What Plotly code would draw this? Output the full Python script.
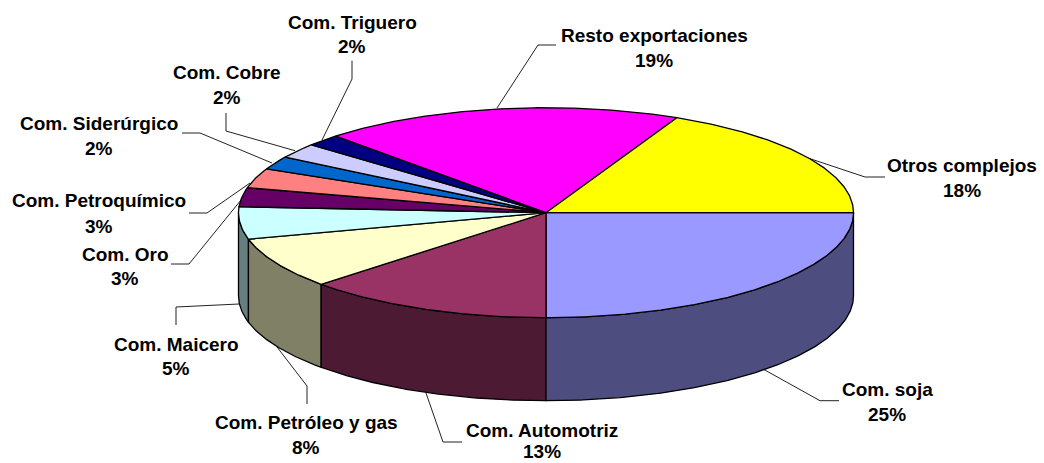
import numpy as np
import plotly.graph_objects as go

# ---- data ----
categories = ["Com. soja", "Com. Automotriz", "Com. Petróleo y gas", "Com. Maicero", "Com. Oro",
              "Com. Petroquímico", "Com. Siderúrgico", "Com. Cobre", "Com. Triguero",
              "Resto exportaciones", "Otros complejos"]
shares = [25.0, 13.05, 7.89, 4.97, 2.92, 3.03, 2.03, 2.31, 1.83, 18.97, 18.0]
top_colors = ["#9999FF", "#993366", "#FFFFCC", "#CCFFFF", "#660066", "#FF8080",
              "#0066CC", "#CCCCFF", "#000080", "#FF00FF", "#FFFF00"]
side_colors = ["#4D4D80", "#4D1A33", "#808066", "#668080", "#330033", "#804040",
               "#003366", "#666680", "#000040", "#800080", "#808000"]

# ---- layout of the drawing, in page pixels ----
W, H = 1044, 463
CX, CY, RX, RY, DEPTH = 546, 212.7, 307.5, 105, 83
label_x = [887, 542, 306, 176, 125, 99, 99, 226.5, 352, 654, 962]
name_y = [389, 430, 422, 344, 254, 200, 123, 72, 22, 35, 165]
pct_y = [414, 451.5, 447, 368, 278, 226, 148, 97, 46, 60, 190]
leaders = [
    [(839, 400.7), (820, 400.7), (763, 369)],
    [(462, 442), (443, 442), (426, 393)],
    [(307, 404), (307, 386), (277, 347)],
    [(176, 325), (176, 307), (239, 304)],
    [(171, 264), (189, 264), (241, 200)],
    [(189, 213), (207, 213), (250, 183)],
    [(182, 133), (200, 133), (272, 163)],
    [(226, 113), (226, 131), (295, 150.7)],
    [(352, 60.6), (352, 79), (322, 140)],
    [(556, 45), (538, 45), (497, 108)],
    [(885, 177), (865, 177), (805, 157)],
]


def arc(a0, a1, dy=0.0):
    n = max(2, int(abs(a1 - a0) * 2) + 2)
    t = np.radians(np.linspace(a0, a1, n))
    return CX + RX * np.cos(t), CY + dy + RY * np.sin(t)


ends = np.cumsum(shares) / np.sum(shares) * 360.0
starts = np.concatenate([[0.0], ends[:-1]])

fig = go.Figure()

for pts in leaders:
    fig.add_trace(go.Scatter(x=[p[0] for p in pts], y=[p[1] for p in pts], mode="lines",
                             line=dict(color="#222222", width=1), hoverinfo="skip"))

# side wall: only the front half (0..180 degrees clockwise from east) is visible
order = [i for i in range(len(shares)) if starts[i] < 180]
for i in reversed(order):
    a0, a1 = starts[i], min(ends[i], 180.0)
    xt, yt = arc(a0, a1)
    xb, yb = arc(a1, a0, DEPTH)
    fig.add_trace(go.Scatter(x=np.r_[xt, xb, xt[0]], y=np.r_[yt, yb, yt[0]], mode="lines",
                             fill="toself", fillcolor=side_colors[i],
                             line=dict(color="#000000", width=1.3), hoverinfo="skip"))

# top face
for i in range(len(shares)):
    xa, ya = arc(starts[i], ends[i])
    fig.add_trace(go.Scatter(x=np.r_[CX, xa, CX], y=np.r_[CY, ya, CY], mode="lines",
                             fill="toself", fillcolor=top_colors[i],
                             line=dict(color="#000000", width=1.3), name=categories[i],
                             hoverinfo="skip"))

font = dict(family="Liberation Sans", size=19, color="#000000")
notes = []
for name, val, x, y1, y2 in zip(categories, shares, label_x, name_y, pct_y):
    notes.append(dict(x=x, y=y1, text=f"<b>{name}</b>", showarrow=False, font=font,
                      xanchor="center", yanchor="middle"))
    notes.append(dict(x=x, y=y2, text=f"<b>{round(val)}%</b>", showarrow=False, font=font,
                      xanchor="center", yanchor="middle"))

fig.update_layout(
    width=W, height=H, margin=dict(l=0, r=0, t=0, b=0), showlegend=False,
    paper_bgcolor="#FFFFFF", plot_bgcolor="#FFFFFF", annotations=notes,
    xaxis=dict(range=[0, W], visible=False, fixedrange=True),
    yaxis=dict(range=[H, 0], visible=False, fixedrange=True),
)
fig.write_html("out.html", config={"displayModeBar": False},
               post_script="document.body.style.margin='0';")
